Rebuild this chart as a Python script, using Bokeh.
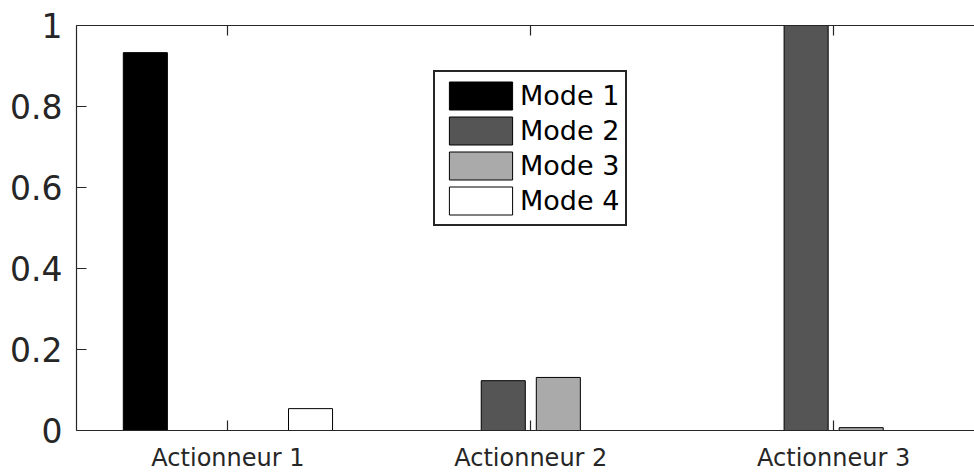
from bokeh.plotting import figure
from bokeh.models import LinearAxis, FixedTicker, Legend, LegendItem, Range1d, CustomLabelingPolicy
from bokeh.embed import file_html
from bokeh.resources import INLINE

categories = ["Actionneur 1", "Actionneur 2", "Actionneur 3"]
modes = ["Mode 1", "Mode 2", "Mode 3", "Mode 4"]
mode1 = [0.933, 0.0, 0.0]
mode2 = [0.0, 0.123, 1.0]
mode3 = [0.0, 0.131, 0.007]
mode4 = [0.054, 0.0, 0.0]
y_ticks = [0, 0.2, 0.4, 0.6, 0.8, 1]
y_tick_labels = ["0", "0.2", "0.4", "0.6", "0.8", "1"]
colors = ["#000000", "#555555", "#aaaaaa", "#ffffff"]

series = [mode1, mode2, mode3, mode4]
x_pos = [i + 1 for i in range(len(categories))]

AX = "#262626"
FONT = "DejaVu Sans"

p = figure(width=974, height=474,
           x_range=Range1d(0.5, 3.465), y_range=Range1d(0, 1),
           output_backend="svg", toolbar_location=None,
           x_axis_location=None, y_axis_location=None,
           min_border_left=76, min_border_top=25, min_border_bottom=44, min_border_right=0,
           background_fill_color="white", border_fill_color="white")
p.outline_line_color = None
for g in p.grid:
    g.visible = False

n = len(series)
group_w = min(0.8, n / (n + 1.5))
bar_w = 0.8 * group_w / n
items = []
for i, vals in enumerate(series):
    off = (i - (n - 1) / 2) * group_w / n
    r = p.vbar(x=[x + off for x in x_pos], top=vals, bottom=0, width=bar_w,
               fill_color=colors[i], line_color="black", line_width=1)
    items.append(LegendItem(label=modes[i], renderers=[r]))

def style(ax):
    ax.axis_line_color = AX
    ax.axis_line_width = 1.2
    ax.major_tick_line_color = AX
    ax.major_tick_line_width = 1.2
    ax.major_tick_in = 10
    ax.major_tick_out = 0
    ax.minor_tick_line_color = None
    ax.major_label_text_color = AX
    ax.major_label_text_font = FONT

yaxis = LinearAxis(ticker=FixedTicker(ticks=y_ticks),
                   major_label_overrides=dict(zip(y_ticks, y_tick_labels)))
style(yaxis)
yaxis.major_label_text_font_size = "33px"
yaxis.major_label_standoff = 14
p.add_layout(yaxis, "left")

xaxis = LinearAxis(ticker=FixedTicker(ticks=x_pos),
                   major_label_overrides=dict(zip(x_pos, categories)))
style(xaxis)
xaxis.major_label_text_font_size = "24px"
xaxis.major_label_standoff = 13
p.add_layout(xaxis, "below")

top = LinearAxis(ticker=FixedTicker(ticks=x_pos),
                 major_label_policy=CustomLabelingPolicy(
                     code="for (const i of Array.from(indices)) { indices.unset(i) }; return indices"))
style(top)
top.major_label_standoff = 0
p.add_layout(top, "above")

legend = Legend(items=items, location=(357, 204),
                border_line_color=AX, border_line_width=2, border_line_alpha=1,
                background_fill_color="white", background_fill_alpha=1,
                label_text_font=FONT, label_text_font_size="27px", label_text_color="black",
                glyph_width=79, glyph_height=35, label_height=35,
                spacing=0, padding=6, margin=0, label_standoff=0)
p.add_layout(legend, "center")

open("out.html", "w").write(file_html(p, INLINE))
